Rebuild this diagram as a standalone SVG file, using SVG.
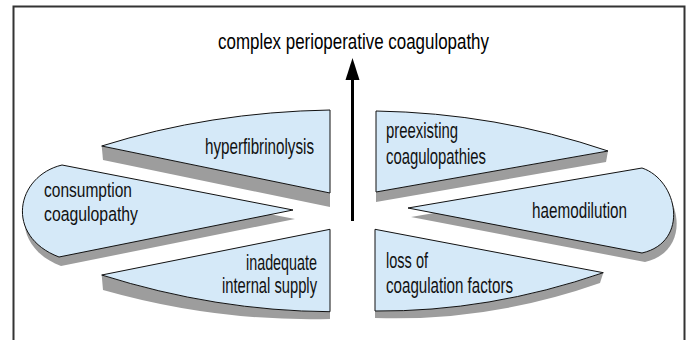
<svg xmlns="http://www.w3.org/2000/svg" width="687" height="340" viewBox="0 0 687 340">
  <style>
    .slice { fill: #d5e9f8; stroke: #111; stroke-width: 1; stroke-linejoin: miter; }
    .side { fill: #9d9d9d; stroke: none; }
    .lbl { font-family: "Liberation Sans", Arial, sans-serif; font-size: 22px; fill: #111; }
    .lbl.tight { font-size: 20.5px; }
    .title { font-family: "Liberation Sans", Arial, sans-serif; font-size: 22px; fill: #000; }
  </style>

  <!-- outer frame -->
  <rect x="13.5" y="6.5" width="671" height="400" fill="#fff" stroke="#333" stroke-width="2"/>

  <!-- title -->
  <text class="title" x="218" y="49" textLength="271" lengthAdjust="spacingAndGlyphs">complex perioperative coagulopathy</text>

  <!-- connectors -->
  <g id="connectors">
    <line x1="352.5" y1="221" x2="352.5" y2="76" stroke="#000" stroke-width="3"/>
    <polygon points="352.5,58 359.5,80 345.5,80" fill="#000"/>
  </g>

  <!-- left column of slices -->
  <g id="hyperfibrinolysis">
    <path class="side" d="M101.7,146 L330,193 L330,207 L103,160 Z"/>
    <path class="slice" d="M101.7,146 Q210,112 330,110 L330,193 Z"/>
    <text class="lbl" x="205" y="154" textLength="109" lengthAdjust="spacingAndGlyphs">hyperfibrinolysis</text>
  </g>

  <g id="consumption">
    <path class="side" transform="translate(2,9)" d="M293,210 L62,165 C16,176 4,236 59,257 Z"/>
    <path class="slice" d="M293,210 L62,165 C16,176 4,236 59,257 Z"/>
    <text class="lbl tight" x="44" y="197" textLength="88" lengthAdjust="spacingAndGlyphs">consumption</text>
    <text class="lbl tight" x="44" y="221" textLength="94" lengthAdjust="spacingAndGlyphs">coagulopathy</text>
  </g>

  <g id="inadequate-supply">
    <path class="side" d="M101.7,275 Q216,311 330,311.7 L330,319 Q216,322 103,290 Z"/>
    <path class="slice" d="M330,229.3 L101.7,275 Q216,311 330,311.7 Z"/>
    <text class="lbl" x="246" y="270" textLength="71" lengthAdjust="spacingAndGlyphs">inadequate</text>
    <text class="lbl" x="222" y="293" textLength="95" lengthAdjust="spacingAndGlyphs">internal supply</text>
  </g>

  <!-- right column of slices -->
  <g id="preexisting">
    <path class="side" d="M376,192 L608,151 L606,162 L376,202 Z"/>
    <path class="slice" d="M376,111 Q496,113 608,151 L376,192 Z"/>
    <text class="lbl" x="386" y="138" textLength="72" lengthAdjust="spacingAndGlyphs">preexisting</text>
    <text class="lbl" x="386" y="164" textLength="100" lengthAdjust="spacingAndGlyphs">coagulopathies</text>
  </g>

  <g id="haemodilution">
    <path class="side" transform="translate(3,9)" d="M408,208 L642,168 C678,180 690,242 642,253 Z"/>
    <path class="slice" d="M408,208 L642,168 C678,180 690,242 642,253 Z"/>
    <text class="lbl" x="532" y="218" textLength="95" lengthAdjust="spacingAndGlyphs">haemodilution</text>
  </g>

  <g id="loss-of-factors">
    <path class="side" d="M603.3,272.7 Q489,312 375,311 L375,318 Q489,322 600,283 Z"/>
    <path class="slice" d="M375,229.3 L603.3,272.7 Q489,312 375,311 Z"/>
    <text class="lbl" x="386" y="268" textLength="42" lengthAdjust="spacingAndGlyphs">loss of</text>
    <text class="lbl" x="386" y="293" textLength="127" lengthAdjust="spacingAndGlyphs">coagulation factors</text>
  </g>
</svg>
